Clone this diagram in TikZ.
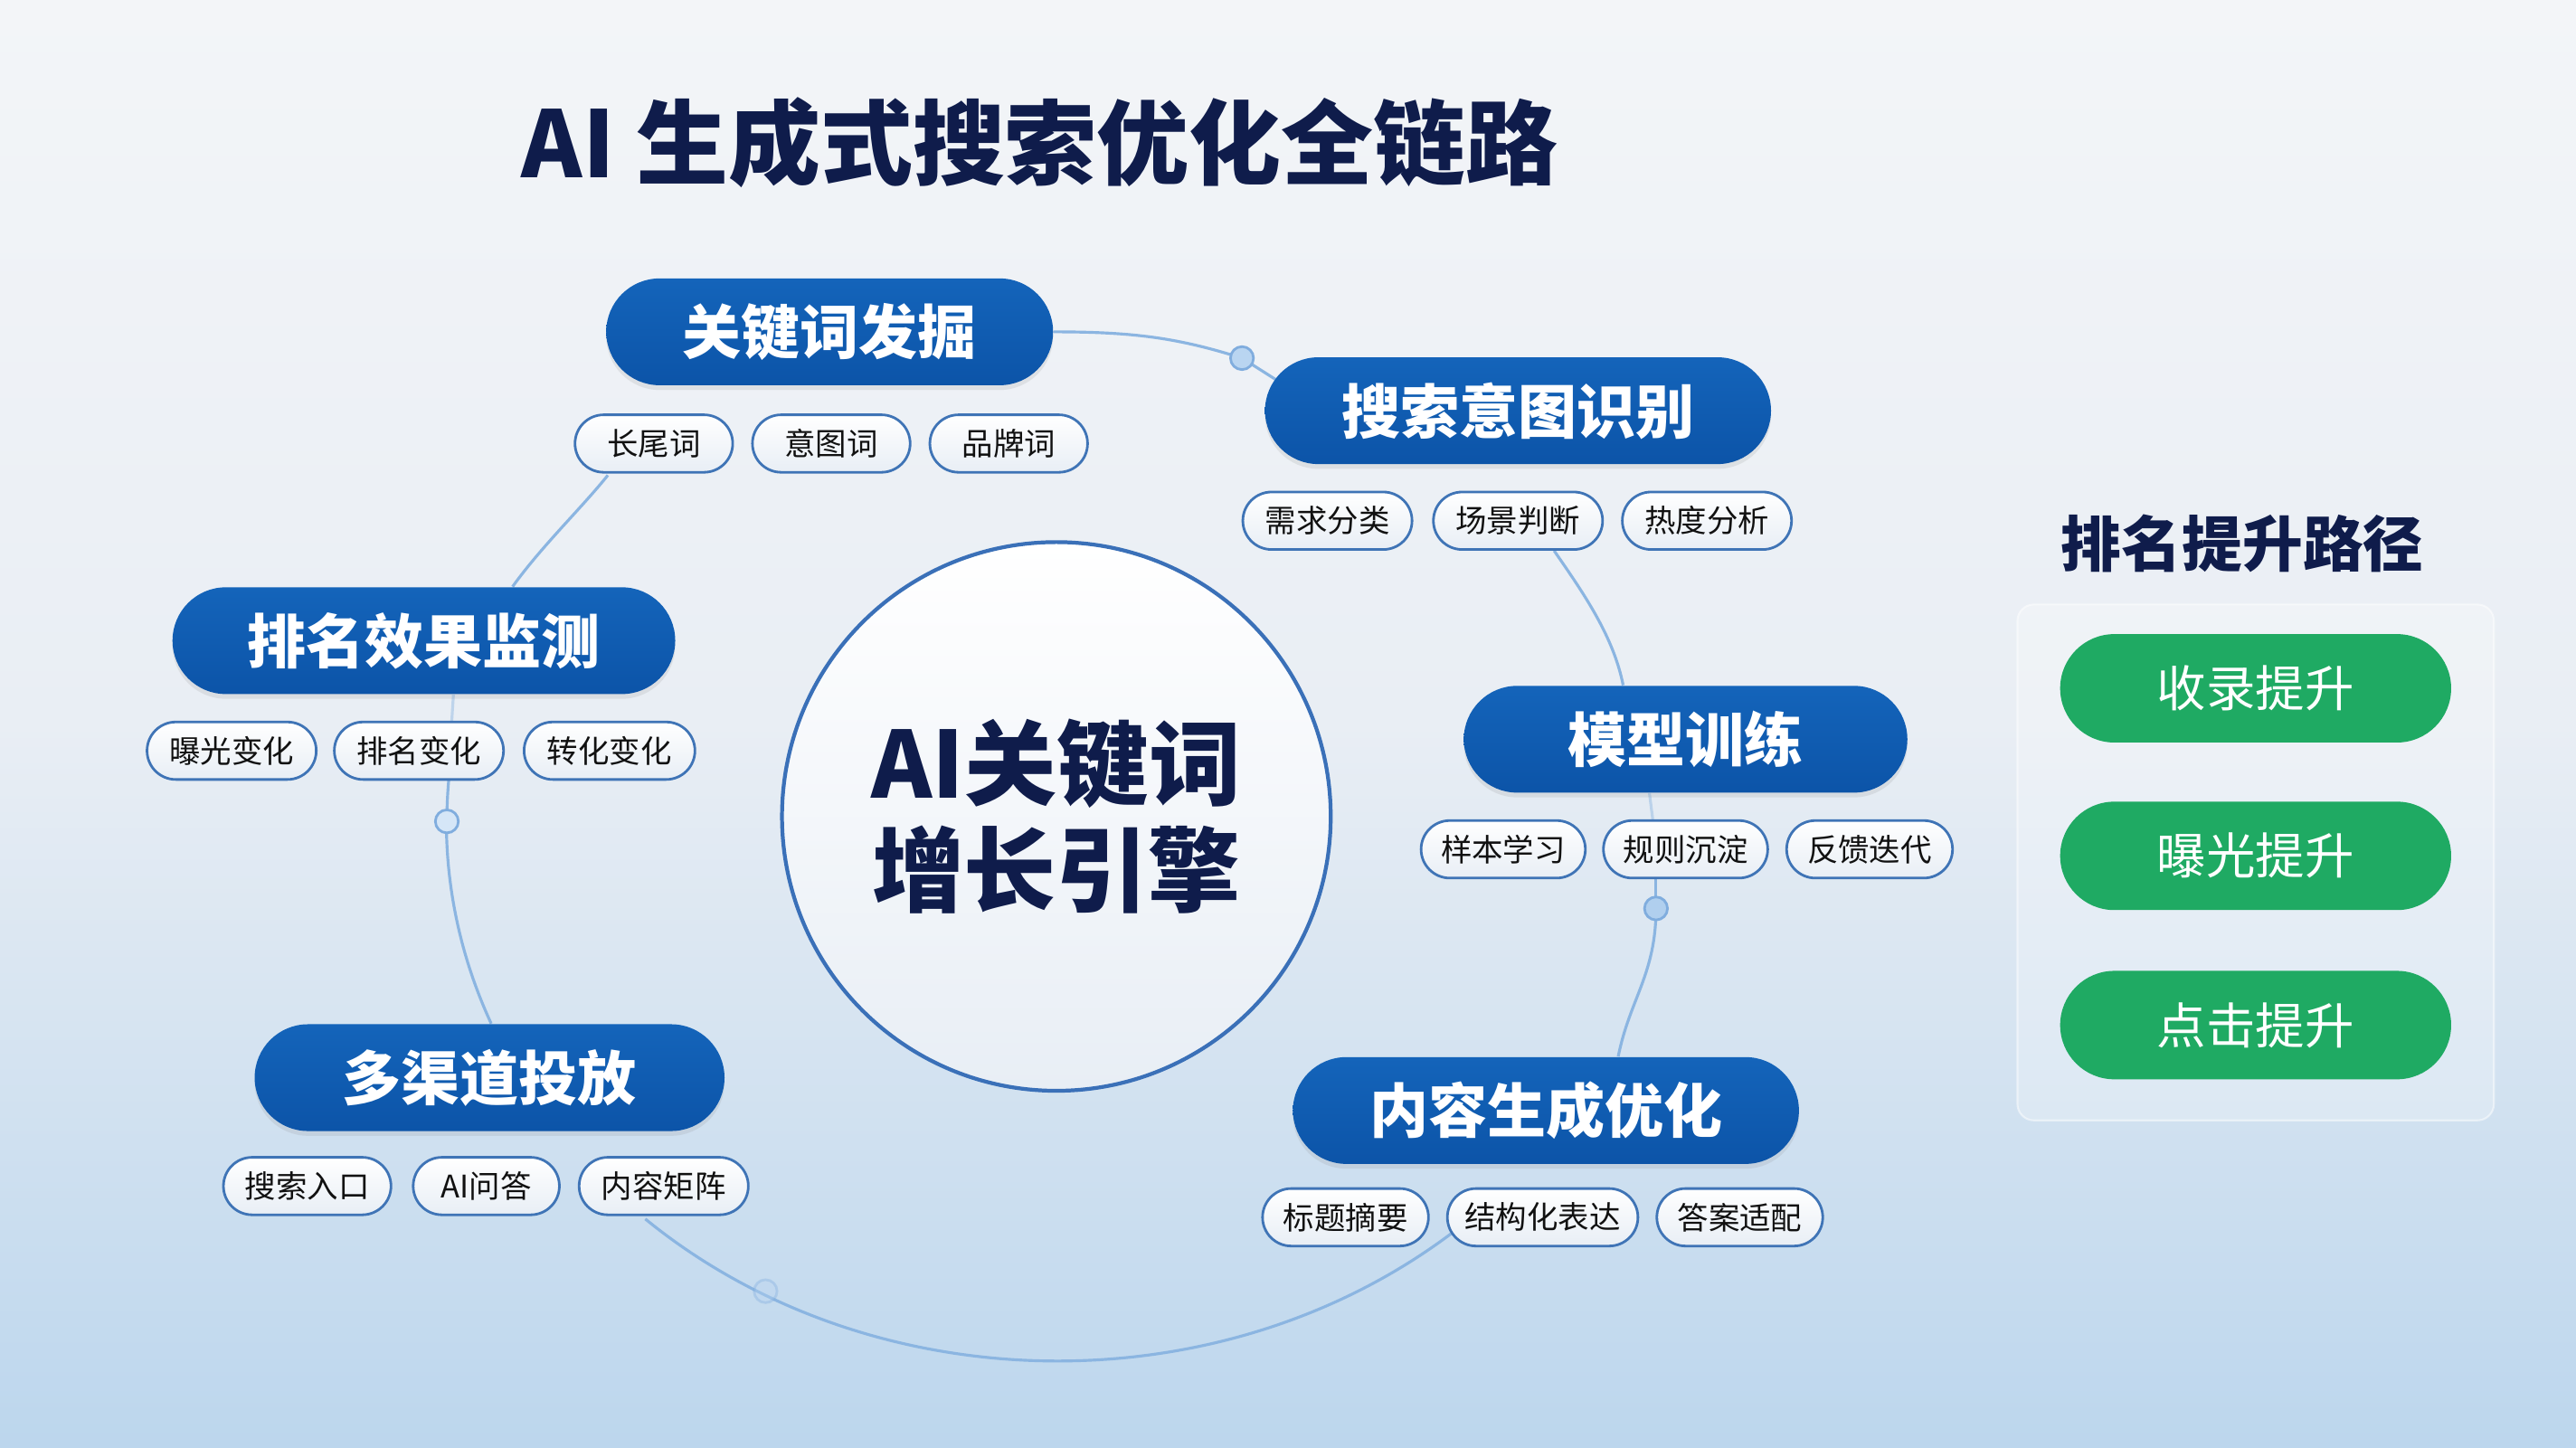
\documentclass[tikz,border=0pt]{standalone}
\usepackage{fontspec}
\setmainfont{Noto Sans CJK SC}
\usetikzlibrary{shapes.misc,calc,shadows}
\newlength\ux \setlength\ux{0.18163mm}
\definecolor{bgtop}{HTML}{F3F5F8}
\definecolor{bgmid}{HTML}{E9EEF4}
\definecolor{bgbot}{HTML}{BCD6ED}
\definecolor{navy}{HTML}{0F1C4B}
\definecolor{pilltop}{HTML}{1464BA}
\definecolor{pillbot}{HTML}{0C54A8}
\definecolor{chipline}{HTML}{3F74B6}
\definecolor{chipbot}{HTML}{E8EEF5}
\definecolor{chiptext}{HTML}{111111}
\definecolor{grn}{HTML}{1FAA63}
\definecolor{linkc}{HTML}{8BB5E1}
\definecolor{dotfill}{HTML}{B9D5F1}
\definecolor{dotline}{HTML}{80ADDE}
\definecolor{corering}{HTML}{3A70B8}
\pgfdeclarelayer{back}
\pgfdeclarelayer{lines}
\pgfsetlayers{back,lines,main}
\begin{document}
\begin{tikzpicture}[x=0.18163mm,y=-0.18163mm,
  pill/.style={rounded rectangle, minimum height=65\ux, inner sep=0pt,
    top color=pilltop, bottom color=pillbot, draw=none, text=white,
    font=\fontsize{18.5}{20}\selectfont\bfseries,
    drop shadow={opacity=0.15, shadow xshift=0pt, shadow yshift=-1.5pt}},
  chip/.style={rounded rectangle, minimum height=35\ux, inner sep=0pt,
    draw=chipline, line width=0.8pt, top color=white, bottom color=chipbot,
    text=chiptext, font=\fontsize{9.8}{11}\selectfont},
  greenpill/.style={rounded rectangle, minimum width=238\ux, minimum height=66\ux,
    inner sep=0pt, fill=grn, text=white, font=\fontsize{15.5}{17}\selectfont},
  link/.style={draw=linkc, line width=0.9pt},
  faintlink/.style={draw=linkc, line width=0.9pt, draw opacity=0.45},
  dot/.style={circle, minimum size=14\ux, inner sep=0pt, fill=dotfill, draw=dotline, line width=0.8pt}
]
\useasboundingbox (0,0) rectangle (1568,881);
\begin{pgfonlayer}{back}
  \shade[top color=bgtop, bottom color=bgmid] (0,0) rectangle (1568,440);
  \shade[top color=bgmid, bottom color=bgbot] (0,440) rectangle (1568,881);
\end{pgfonlayer}

% title
\node[font=\fontsize{29}{34}\selectfont\bfseries, text=navy] (title) at (633,87) {AI 生成式搜索优化全链路};

% right panel
\node[rounded corners=10\ux, minimum width=290\ux, minimum height=314\ux,
  fill=white, fill opacity=0.25, draw=white, draw opacity=0.5, line width=0.6pt] (panel) at (1373,525) {};
\node[font=\fontsize{19}{22}\selectfont\bfseries, text=navy] (head) at (1365,331) {排名提升路径};
\node[greenpill] (g1) at (1373,419) {收录提升};
\node[greenpill] (g2) at (1373,521) {曝光提升};
\node[greenpill] (g3) at (1373,624) {点击提升};

% core
\node[circle, minimum size=334\ux, draw=corering, line width=1.2pt,
  top color=white, bottom color=chipbot, text=navy, align=center,
  font=\fontsize{29}{33.5}\selectfont\bfseries] (core) at (643,497) {AI关键词\\增长引擎};

% pills
\node[pill, minimum width=272\ux] (kw) at (505,202) {关键词发掘};
\node[pill, minimum width=308\ux] (intent) at (924,250) {搜索意图识别};
\node[pill, minimum width=270\ux] (model) at (1026,450) {模型训练};
\node[pill, minimum width=308\ux] (content) at (941,676) {内容生成优化};
\node[pill, minimum width=286\ux] (multi) at (298,656) {多渠道投放};
\node[pill, minimum width=306\ux] (rank) at (258,390) {排名效果监测};

% chips
\node[chip, minimum width=96\ux] (cw) at (398,270) {长尾词};
\node[chip, minimum width=96\ux] (yt) at (506,270) {意图词};
\node[chip, minimum width=96\ux] (pp) at (614,270) {品牌词};

\node[chip, minimum width=103\ux] (xq) at (808,317) {需求分类};
\node[chip, minimum width=103\ux] (sc) at (924,317) {场景判断};
\node[chip, minimum width=103\ux] (rd) at (1039,317) {热度分析};

\node[chip, minimum width=103\ux] (bg) at (141,457) {曝光变化};
\node[chip, minimum width=103\ux] (pm) at (255,457) {排名变化};
\node[chip, minimum width=104\ux] (zh) at (371,457) {转化变化};

\node[chip, minimum width=100\ux] (yb) at (915,517) {样本学习};
\node[chip, minimum width=100\ux] (gz) at (1026,517) {规则沉淀};
\node[chip, minimum width=101\ux] (fk) at (1138,517) {反馈迭代};

\node[chip, minimum width=102\ux] (ss) at (187,722) {搜索入口};
\node[chip, minimum width=89\ux] (aiqa) at (296,722) {AI问答};
\node[chip, minimum width=103\ux] (nr) at (404,722) {内容矩阵};

\node[chip, minimum width=101\ux] (bt) at (819,741) {标题摘要};
\node[chip, minimum width=116\ux] (jg) at (939,741) {结构化表达};
\node[chip, minimum width=101\ux] (da) at (1059,741) {答案适配};

% dots
\node[dot] (d1) at (756,218) {};
\node[dot, fill=dotfill!80!linkc] (d2) at (1008,553) {};
\node[dot, fill=dotfill!60!white] (d3) at (272,500) {};
\node[dot, fill=dotfill, fill opacity=0.35, draw opacity=0.35] (d4) at (466,786) {};

% ring connectors
\begin{pgfonlayer}{lines}
  \draw[link] (kw.east) .. controls +(50,0) and +(-38,-12) .. (d1.center);
  \draw[link] (d1.center) -- ($(intent.west)+(10,-17)$);
  \draw[link] ($(sc.south)+(22,0)$) .. controls +(18,26) and +(-6,-30) .. ($(model.north)+(-38,0)$);
  \draw[faintlink] ($(model.south)+(-22,0)$) -- ($(gz.north)+(-20,0)$);
  \draw[link] ($(gz.south)+(-18,0)$) -- (d2.center);
  \draw[link] (d2.center) .. controls +(0,40) and +(7,-35) .. ($(content.north)+(44,0)$);
  \draw[link] ($(jg.west)+(3,10)$) arc[start angle=49.4, end angle=133, x radius=368, y radius=322];
  \draw[link] ($(multi.north)+(1,0)$) arc[start angle=157.8, end angle=180, x radius=368, y radius=325];
  \draw[link] (d3.center) arc[start angle=180, end angle=184.6, x radius=368, y radius=325];
  \draw[faintlink] ($(rank.south)+(18,0)$) -- ($(pm.north)+(20,0)$);
  \draw[link] ($(rank.north)+(54,0)$) .. controls +(18,-25) and +(-16,20) .. ($(cw.south)+(-28,1)$);
\end{pgfonlayer}
\end{tikzpicture}
\end{document}
